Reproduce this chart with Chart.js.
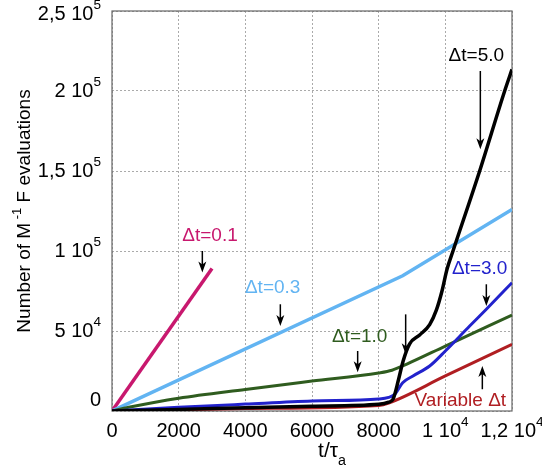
<!DOCTYPE html>
<html>
<head>
<meta charset="utf-8">
<script src="https://cdn.jsdelivr.net/npm/chart.js@4.4.0/dist/chart.umd.min.js"></script>
<style>
  html, body { margin: 0; padding: 0; background: #fff; }
</style>
</head>
<body>
<canvas id="chart" width="542" height="474"></canvas>
<script>
// t / tau_a values and number of M^-1 F evaluations
const t01 = [0, 3000];
const n01 = [0, 89000];

const t03 = [0, 8720, 12000];
const n03 = [0, 84500, 126000];

const t10 = [0, 500, 2000, 4000, 6000, 8000, 8400, 8830, 10000, 12000];
const n10 = [0, 2300, 8000, 13500, 18700, 23800, 25500, 29200, 40600, 60000];

const t30 = [0, 2000, 4000, 6000, 8000, 8300, 8480, 8720, 9030, 9530, 10000, 10730, 11230, 12000];
const n30 = [0, 2300, 4300, 6200, 7500, 8500, 10400, 17700, 21900, 28100, 37500, 53100, 63600, 80200];

const t50 = [0, 2000, 4000, 6000, 8000, 8300, 8430, 8600, 8730, 8930, 9230, 9530, 9730, 9900, 10050, 10230, 11030, 11780, 12000];
const n50 = [0, 1000, 2000, 3000, 4200, 5500, 7300, 20000, 31000, 42000, 47500, 54000, 63000, 75000, 88600, 100000, 150000, 200000, 213500];

const tVar = [0, 4000, 8000, 8300, 10000, 12000];
const nVar = [0, 1500, 3500, 5000, 21900, 41700];

const xTickLabels = ['0', '2000', '4000', '6000', '8000', '1 10^4', '1,2 10^4'];
const yTickLabels = ['0', '5 10^4', '1 10^5', '1,5 10^5', '2 10^5', '2,5 10^5'];

const C01 = '#c8186e';
const C03 = '#62b4f2';
const C10 = '#2f5c1f';
const C30 = '#2222cc';
const C50 = '#000000';
const CVAR = '#b01e22';

// labels + arrows, in data units (arrow: x, tail y, head y)
const notes = [
    { text: 'Δt=0.1', color: C01, t: 2940, n: 109400, ax: 2710, from: 100000, to: 86500 },
    { text: 'Δt=0.3', color: C03, t: 4820, n: 77300, ax: 5050, from: 66700, to: 53100 },
    { text: 'Δt=1.0', color: C10, t: 7430, n: 46100, ax: 7370, from: 37500, to: 24200 },
    { text: 'Δt=3.0', color: C30, t: 11030, n: 88600, ax: 11230, from: 79200, to: 65600 },
    { text: 'Δt=5.0', color: C50, t: 10930, n: 221900, ax: 11050, from: 212500, to: 163600 },
    { text: '', color: C50, t: 0, n: 0, ax: 8810, from: 60400, to: 35400 },
    { text: 'Variable Δt', color: CVAR, t: 10450, n: 6250, ax: 11110, from: 13600, to: 28100 }
];

const FONT = "'Liberation Sans', Arial, sans-serif";

function pts(t, n) {
    return t.map((v, i) => ({ x: v, y: n[i] }));
}

function line(t, n, color, width, order, smooth) {
    return {
        data: pts(t, n),
        borderColor: color,
        borderWidth: width,
        pointRadius: 0,
        fill: false,
        tension: 0,
        cubicInterpolationMode: smooth ? 'monotone' : 'default',
        order: order
    };
}

// text with ^superscript or _subscript part
function parseRich(str, size) {
    const m = str.split(/([\^_])/);
    const parts = [{ s: m[0], size: size, dy: 0 }];
    for (let i = 1; i < m.length; i += 2) {
        const small = size * 0.68;
        parts.push({ s: m[i + 1], size: small, dy: m[i] === '^' ? -size * 0.42 : size * 0.5 });
    }
    return parts;
}

function drawRich(ctx, parts, x, y, align) {
    let w = 0;
    parts.forEach(p => { ctx.font = p.size + 'px ' + FONT; w += ctx.measureText(p.s).width; });
    let cx = align === 'right' ? x - w : align === 'center' ? x - w / 2 : x;
    ctx.textAlign = 'left';
    ctx.textBaseline = 'middle';
    parts.forEach(p => {
        ctx.font = p.size + 'px ' + FONT;
        ctx.fillText(p.s, cx, y + p.dy);
        cx += ctx.measureText(p.s).width;
    });
}

function arrow(ctx, x, y1, y2, color) {
    const dir = y2 > y1 ? 1 : -1;
    ctx.strokeStyle = color;
    ctx.fillStyle = color;
    ctx.lineWidth = 1.5;
    ctx.beginPath();
    ctx.moveTo(x, y1);
    ctx.lineTo(x, y2 - dir * 6);
    ctx.stroke();
    ctx.beginPath();
    ctx.moveTo(x, y2);
    ctx.lineTo(x - 4, y2 - dir * 11);
    ctx.lineTo(x, y2 - dir * 8);
    ctx.lineTo(x + 4, y2 - dir * 11);
    ctx.closePath();
    ctx.fill();
}

const decorPlugin = {
    id: 'decor',
    beforeDatasetsDraw(chart) {
        const { ctx, chartArea: a } = chart;
        ctx.save();
        ctx.strokeStyle = '#666';
        ctx.lineWidth = 1.2;
        ctx.strokeRect(a.left, a.top, a.right - a.left, a.bottom - a.top);
        ctx.restore();
    },
    afterDraw(chart) {
        const { ctx, scales: { x, y } } = chart;
        ctx.save();
        ctx.fillStyle = '#000';

        // tick labels
        x.ticks.forEach((tk, i) => {
            drawRich(ctx, parseRich(xTickLabels[i] || '', 20), x.getPixelForValue(tk.value), 431, 'center');
        });
        y.ticks.forEach((tk, i) => {
            const py = Math.min(Math.max(y.getPixelForValue(tk.value), 14), 400);
            drawRich(ctx, parseRich(yTickLabels[i] || '', 20), 101, py, 'right');
        });

        // axis titles
        drawRich(ctx, parseRich('t/τ_a', 21), 332, 451, 'center');
        ctx.translate(25, 211);
        ctx.rotate(-Math.PI / 2);
        drawRich(ctx, [
            { s: 'Number of M', size: 19, dy: 0 },
            { s: ' -1', size: 13, dy: -8 },
            { s: ' F evaluations', size: 19, dy: 0 }
        ], 0, 0, 'center');
        ctx.restore();

        // annotations
        ctx.save();
        notes.forEach(nt => {
            if (nt.text) {
                ctx.fillStyle = nt.color;
                drawRich(ctx, [{ s: nt.text, size: 19, dy: 0 }], x.getPixelForValue(nt.t), y.getPixelForValue(nt.n), 'center');
            }
            arrow(ctx, x.getPixelForValue(nt.ax), y.getPixelForValue(nt.from), y.getPixelForValue(nt.to), '#000');
        });
        ctx.restore();
    }
};

new Chart(document.getElementById('chart'), {
    type: 'line',
    data: {
        datasets: [
            line(t01, n01, C01, 3.5, 6, false),
            line(t03, n03, C03, 3.5, 5, false),
            line(t10, n10, C10, 3, 4, true),
            line(tVar, nVar, CVAR, 3, 3, true),
            line(t30, n30, C30, 3, 2, true),
            line(t50, n50, C50, 3.5, 1, true)
        ]
    },
    options: {
        responsive: false,
        animation: false,
        devicePixelRatio: 1,
        layout: { padding: { left: 0, top: 11, right: 30, bottom: 0 } },
        plugins: {
            legend: { display: false },
            tooltip: { enabled: false }
        },
        scales: {
            x: {
                type: 'linear',
                min: 0,
                max: 12000,
                ticks: { stepSize: 2000, callback: () => '' },
                grid: { color: '#aaa', lineWidth: 1, drawTicks: false },
                border: { display: false, dash: [2, 2] },
                afterFit: s => { s.height = 63; }
            },
            y: {
                type: 'linear',
                min: 0,
                max: 250000,
                ticks: { stepSize: 50000, callback: () => '' },
                grid: { color: '#aaa', lineWidth: 1, drawTicks: false },
                border: { display: false, dash: [2, 2] },
                afterFit: s => { s.width = 112; }
            }
        }
    },
    plugins: [decorPlugin]
});
</script>
</body>
</html>
